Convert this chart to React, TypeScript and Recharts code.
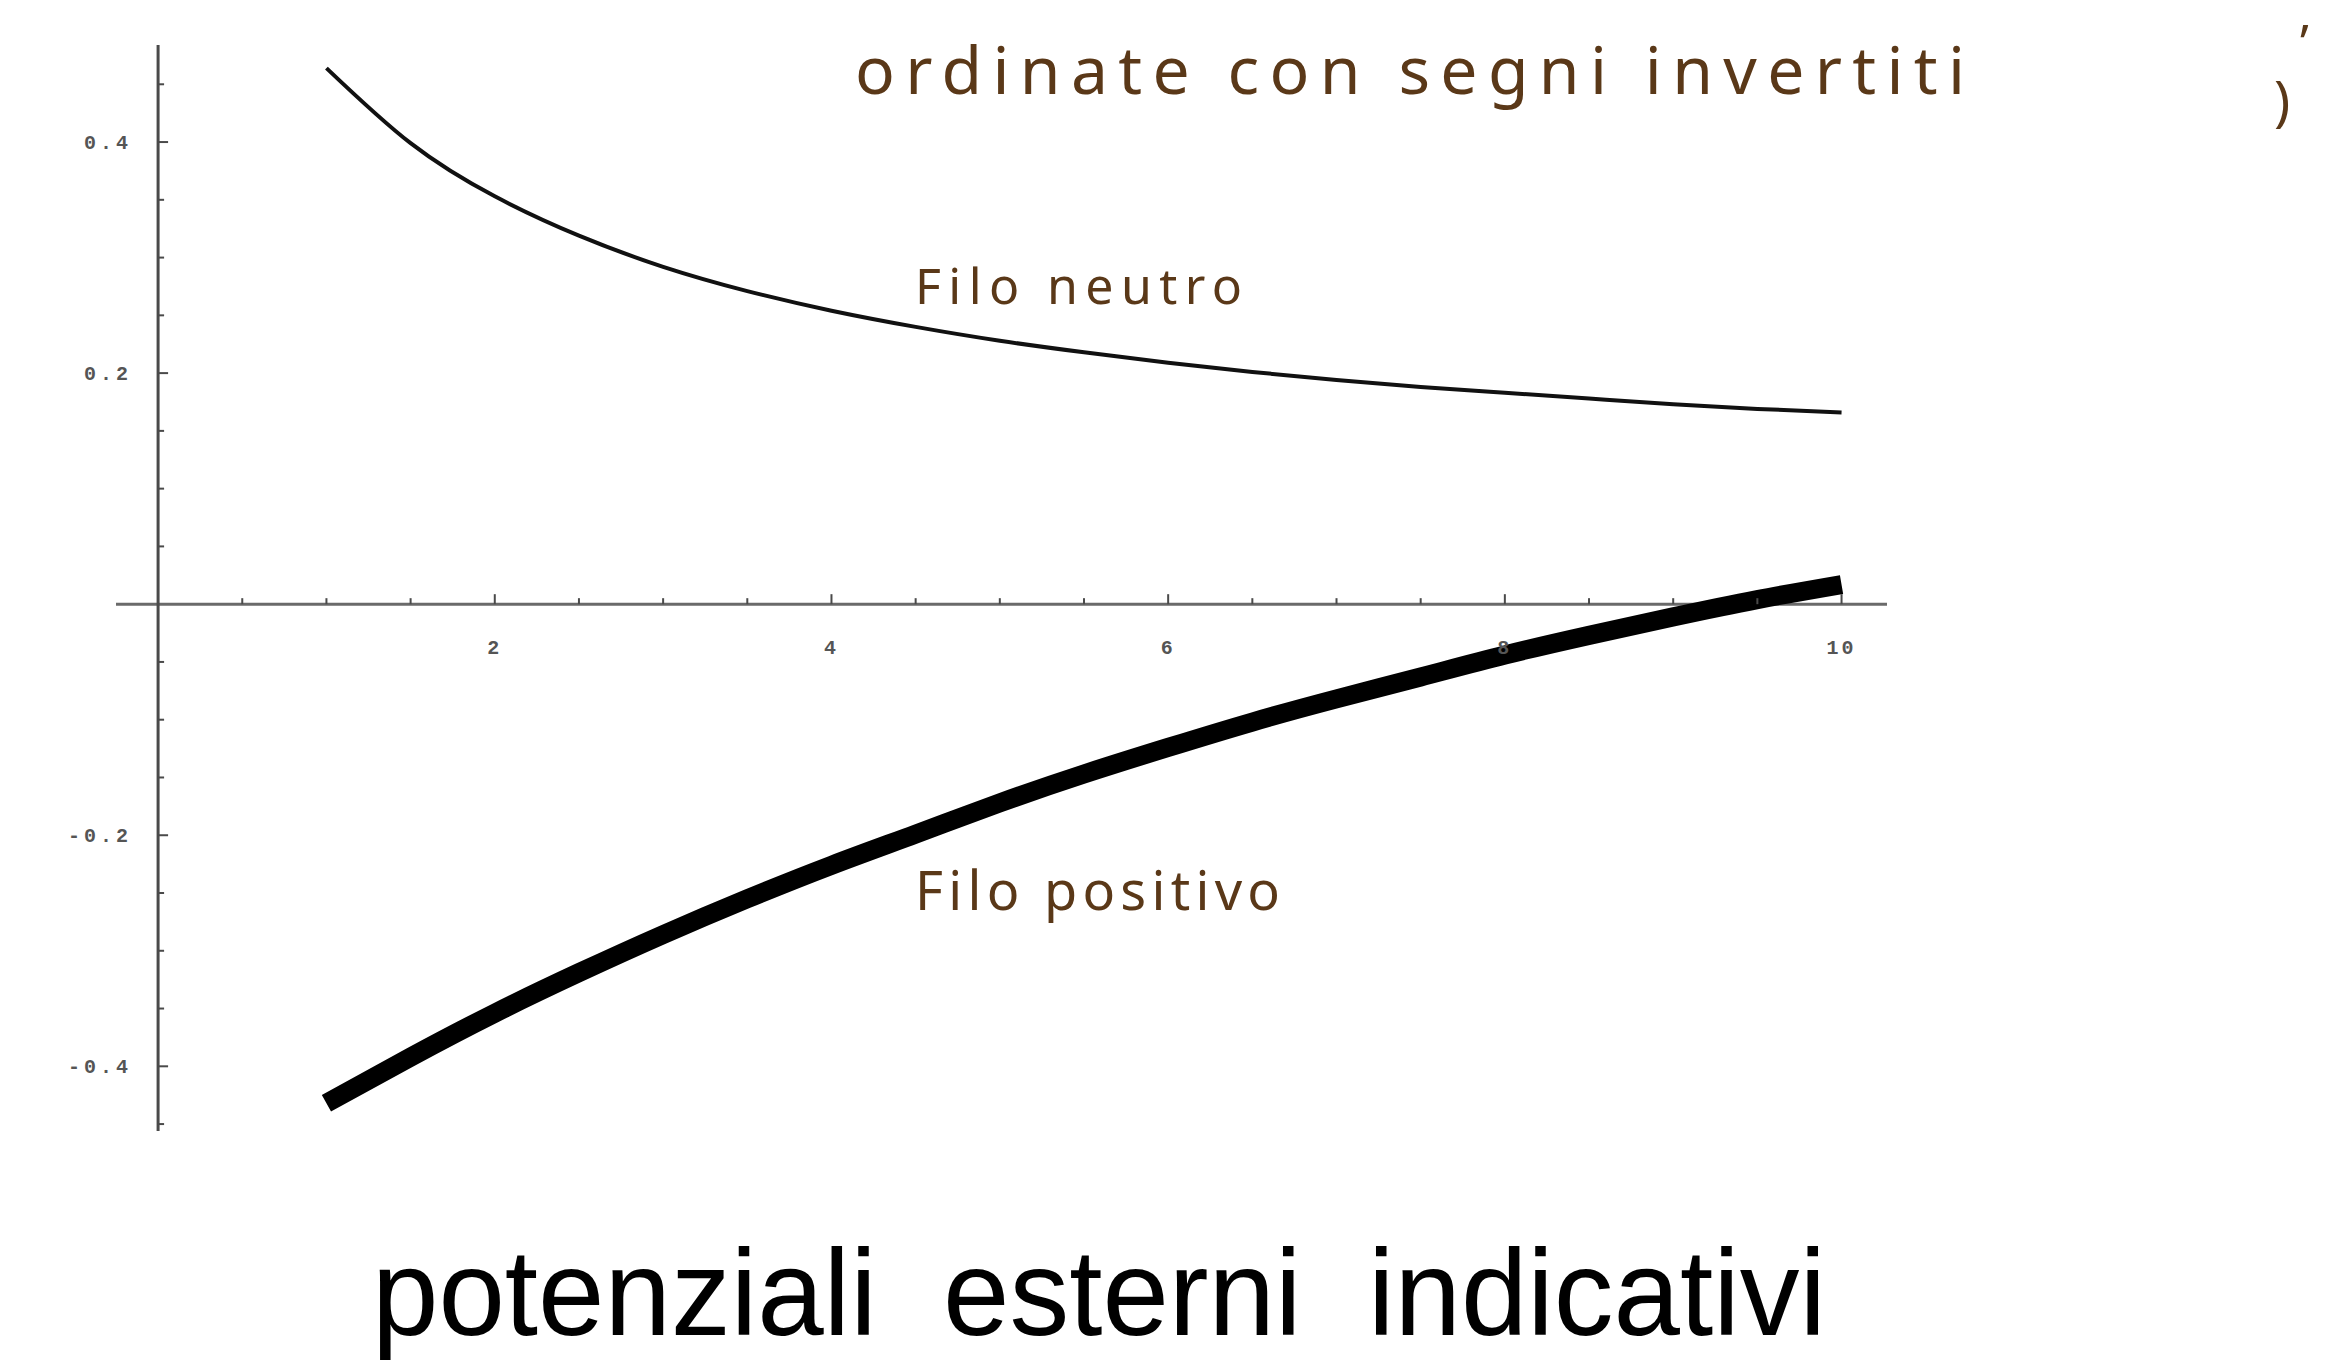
import React from "react";
import { LineChart, Line, XAxis, YAxis, ReferenceLine, ReferenceDot } from "recharts";

// sampled positions along the distance axis
const xValues = [1, 1.5, 2, 2.5, 3, 3.5, 4, 4.5, 5, 5.5, 6, 6.5, 7, 7.5, 8, 8.5, 9, 9.5, 10];

// thin curve ("Filo neutro")
const neutralWire = [
  0.464, 0.399, 0.353, 0.319, 0.292, 0.271, 0.254, 0.24, 0.228, 0.218,
  0.209, 0.201, 0.194, 0.188, 0.183, 0.178, 0.173, 0.169, 0.166,
];

// thick curve ("Filo positivo")
const positiveWire = [
  -0.432, -0.392, -0.354, -0.319, -0.286, -0.255, -0.226, -0.199, -0.172, -0.147,
  -0.124, -0.102, -0.082, -0.063, -0.044, -0.027, -0.011, 0.004, 0.017,
];

const xMajorTicks = [2, 4, 6, 8, 10];
const xMinorTicks = [0.5, 1, 1.5, 2.5, 3, 3.5, 4.5, 5, 5.5, 6.5, 7, 7.5, 8.5, 9, 9.5];
const yMajorTicks = [0.4, 0.2, -0.2, -0.4];
const yMinorTicks = [0.45, 0.35, 0.3, 0.25, 0.15, 0.1, 0.05, -0.05, -0.1, -0.15, -0.25, -0.3, -0.35, -0.45];

const xDomain = [-0.25, 10.27];
const yDomain = [-0.456, 0.484];

const data = xValues.map((x, i) => ({
  x,
  neutro: neutralWire[i],
  positivo: positiveWire[i],
}));

const W = 2317;
const H = 1357;
const AXIS = "#4a4a4a";
const INK = "#5a3818";
const tickFont = { fontFamily: "Liberation Mono", fontSize: 20, fontWeight: 700, fill: "#555" };

const fmt = (v: number) => (v < 0 ? "-" : "") + Math.abs(v).toFixed(1);

const XTick = ({ cx, cy, major, text }: any) => (
  <g>
    <line x1={cx} y1={cy} x2={cx} y2={cy - (major ? 10 : 6)} stroke={AXIS} strokeWidth={2} />
    {major && (
      <text x={cx} y={cy + 50} textAnchor="middle" letterSpacing={3} {...tickFont}>
        {text}
      </text>
    )}
  </g>
);

const YTick = ({ cx, cy, major, text }: any) => (
  <g>
    <line x1={cx} y1={cy} x2={cx + (major ? 10 : 6)} y2={cy} stroke={AXIS} strokeWidth={2} />
    {major && (
      <text x={cx - 26} y={cy + 7} textAnchor="end" letterSpacing={4} {...tickFont}>
        {text}
      </text>
    )}
  </g>
);

export default function App() {
  return (
    <div style={{ position: "relative", width: W, height: H, background: "#fff" }}>
      <LineChart
        width={W}
        height={H}
        data={data}
        margin={{ top: 37, left: 108, right: 438, bottom: 234 }}
      >
        <XAxis type="number" dataKey="x" domain={xDomain} allowDataOverflow hide />
        <YAxis type="number" domain={yDomain} allowDataOverflow hide />
        <ReferenceLine y={0} stroke="#6a6a6a" strokeWidth={3} />
        <ReferenceLine x={0} stroke={AXIS} strokeWidth={3} />
        {xMinorTicks.map((t) => (
          <ReferenceDot key={"xm" + t} x={t} y={0} r={0} shape={(p: any) => <XTick {...p} />} />
        ))}
        {xMajorTicks.map((t) => (
          <ReferenceDot
            key={"xM" + t}
            x={t}
            y={0}
            r={0}
            shape={(p: any) => <XTick {...p} major text={String(t)} />}
          />
        ))}
        {yMinorTicks.map((t) => (
          <ReferenceDot key={"ym" + t} x={0} y={t} r={0} shape={(p: any) => <YTick {...p} />} />
        ))}
        {yMajorTicks.map((t) => (
          <ReferenceDot
            key={"yM" + t}
            x={0}
            y={t}
            r={0}
            shape={(p: any) => <YTick {...p} major text={fmt(t)} />}
          />
        ))}
        <Line
          type="natural"
          dataKey="neutro"
          stroke="#111"
          strokeWidth={4}
          dot={false}
          isAnimationActive={false}
        />
        <Line
          type="natural"
          dataKey="positivo"
          stroke="#000"
          strokeWidth={19}
          dot={false}
          isAnimationActive={false}
        />
      </LineChart>

      <svg
        width={W}
        height={H}
        style={{ position: "absolute", left: 0, top: 0, pointerEvents: "none" }}
      >
        <text
          x={847}
          y={86}
          fontFamily="Noto Sans"
          fontSize={66}
          fill={INK}
          textLength={1110}
          lengthAdjust="spacing"
        >
          ordinate con segni invertiti
        </text>
        <text x={2292} y={52} fontFamily="Noto Sans" fontSize={50} fill={INK}>
          ’
        </text>
        <text x={2266} y={112} fontFamily="Noto Sans" fontSize={54} fill={INK}>
          )
        </text>
        <text
          x={907}
          y={296}
          fontFamily="Noto Sans"
          fontSize={50}
          fill={INK}
          textLength={327}
          lengthAdjust="spacing"
        >
          Filo neutro
        </text>
        <text
          x={907}
          y={902}
          fontFamily="Noto Sans"
          fontSize={54}
          fill={INK}
          textLength={365}
          lengthAdjust="spacing"
        >
          Filo positivo
        </text>
        <text
          x={364}
          y={1327}
          fontFamily="Liberation Sans"
          fontSize={122}
          fill="#000"
          textLength={1454}
          lengthAdjust="spacingAndGlyphs"
          style={{ whiteSpace: "pre" }}
        >
          potenziali  esterni  indicativi
        </text>
      </svg>
    </div>
  );
}
